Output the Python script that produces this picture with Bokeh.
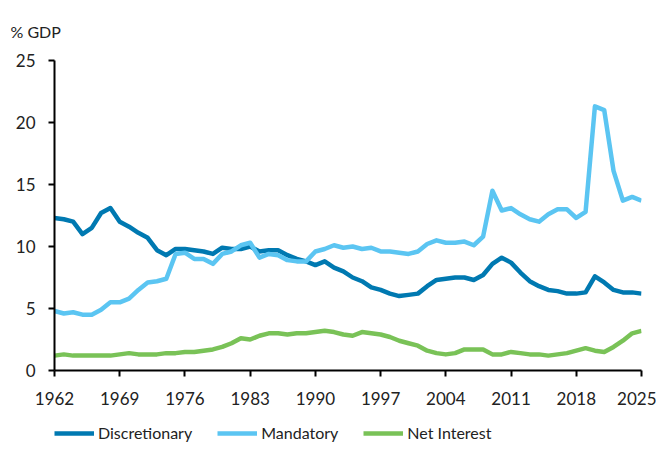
from bokeh.plotting import figure
from bokeh.models import Range1d, FixedTicker, Legend, LegendItem
from bokeh.layouts import column
from bokeh.embed import file_html
from bokeh.resources import INLINE

years = list(range(1962, 2026))
discretionary = [12.3, 12.2, 12.0, 11.0, 11.5, 12.7, 13.1, 12.0, 11.6, 11.1,
                 10.7, 9.7, 9.3, 9.8, 9.8, 9.7, 9.6, 9.4, 9.9, 9.8,
                 9.8, 10.0, 9.6, 9.7, 9.7, 9.3, 9.0, 8.8, 8.5, 8.8,
                 8.3, 8.0, 7.5, 7.2, 6.7, 6.5, 6.2, 6.0, 6.1, 6.2,
                 6.8, 7.3, 7.4, 7.5, 7.5, 7.3, 7.7, 8.6, 9.1, 8.7,
                 7.9, 7.2, 6.8, 6.5, 6.4, 6.2, 6.2, 6.3, 7.6, 7.1,
                 6.5, 6.3, 6.3, 6.2]
mandatory = [4.8, 4.6, 4.7, 4.5, 4.5, 4.9, 5.5, 5.5, 5.8, 6.5,
             7.1, 7.2, 7.4, 9.4, 9.5, 9.0, 9.0, 8.6, 9.4, 9.6,
             10.1, 10.3, 9.1, 9.4, 9.3, 8.9, 8.8, 8.8, 9.6, 9.8,
             10.1, 9.9, 10.0, 9.8, 9.9, 9.6, 9.6, 9.5, 9.4, 9.6,
             10.2, 10.5, 10.3, 10.3, 10.4, 10.1, 10.8, 14.5, 12.9, 13.1,
             12.6, 12.2, 12.0, 12.6, 13.0, 13.0, 12.3, 12.8, 21.3, 21.0,
             16.1, 13.7, 14.0, 13.7]
net_interest = [1.2, 1.3, 1.2, 1.2, 1.2, 1.2, 1.2, 1.3, 1.4, 1.3,
                1.3, 1.3, 1.4, 1.4, 1.5, 1.5, 1.6, 1.7, 1.9, 2.2,
                2.6, 2.5, 2.8, 3.0, 3.0, 2.9, 3.0, 3.0, 3.1, 3.2,
                3.1, 2.9, 2.8, 3.1, 3.0, 2.9, 2.7, 2.4, 2.2, 2.0,
                1.6, 1.4, 1.3, 1.4, 1.7, 1.7, 1.7, 1.3, 1.3, 1.5,
                1.4, 1.3, 1.3, 1.2, 1.3, 1.4, 1.6, 1.8, 1.6, 1.5,
                1.9, 2.4, 3.0, 3.2]
series_names = ["Discretionary", "Mandatory", "Net Interest"]
series_colors = ["#0079B1", "#5BC5F2", "#79C257"]
x_ticks = list(range(1962, 2026, 7))
y_ticks = [0, 5, 10, 15, 20, 25]

FONT = "Lato"
TXT = "#222222"

p = figure(width=656, height=414, output_backend="svg",
           toolbar_location=None, min_border_left=54, min_border_right=15,
           min_border_top=10, min_border_bottom=44,
           x_range=Range1d(1962, 2025), y_range=Range1d(0, 25))
p.outline_line_color = None
p.xgrid.grid_line_color = None
p.ygrid.grid_line_color = None

p.title.text = "% GDP"
p.title.text_font = FONT
p.title.text_font_size = "16px"
p.title.text_font_style = "normal"
p.title.text_color = TXT
p.title.align = "left"
p.title.offset = -44
p.title.standoff = 39

for ax in (p.xaxis[0], p.yaxis[0]):
    ax.axis_line_color = "black"
    ax.axis_line_width = 2
    ax.major_tick_line_color = "black"
    ax.major_tick_line_width = 2
    ax.major_tick_out = 6
    ax.major_tick_in = 0
    ax.minor_tick_line_color = None
    ax.major_label_text_font = FONT
    ax.major_label_text_font_size = "17px"
    ax.major_label_text_color = TXT

p.xaxis.ticker = FixedTicker(ticks=x_ticks)
p.yaxis.ticker = FixedTicker(ticks=y_ticks)
p.xaxis.major_label_standoff = 15
p.yaxis.major_label_standoff = 13

series = [discretionary, mandatory, net_interest]
for vals, col in zip(series, series_colors):
    p.line(years, vals, line_color=col, line_width=4.5, line_join="round")

# separate strip for the legend, below the chart (series drawn out of view,
# only their legend glyphs show)
lg = figure(width=656, height=28, output_backend="svg", toolbar_location=None,
            min_border=0, x_axis_location=None, y_axis_location=None,
            x_range=Range1d(0, 1), y_range=Range1d(100, 101))
lg.outline_line_color = None
lg.xgrid.visible = False
lg.ygrid.visible = False
items = []
for name, vals, col in zip(series_names, series, series_colors):
    r = lg.line(years, vals, line_color=col, line_width=4.5)
    items.append(LegendItem(label=name, renderers=[r]))
legend = Legend(items=items, orientation="horizontal", location=(0, 0),
                label_text_font=FONT, label_text_font_size="16px",
                label_text_color=TXT, glyph_width=40, glyph_height=16,
                label_height=16, label_standoff=4, spacing=25, padding=0,
                margin=0, border_line_color=None, background_fill_alpha=0)
lg.add_layout(legend, "center")

open("out.html", "w").write(file_html(column(p, lg, spacing=0), INLINE))
